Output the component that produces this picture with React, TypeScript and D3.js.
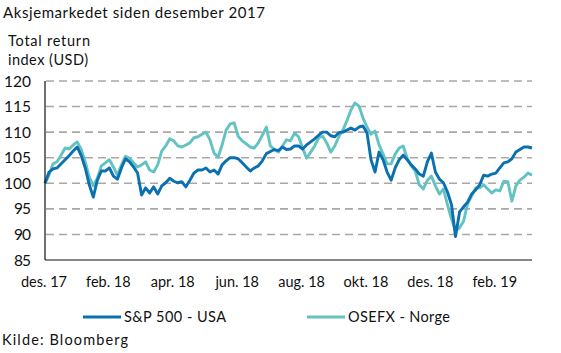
import React from 'react';
import * as d3 from 'd3';

// total return index (USD), des. 2017 = 100
const SP500 = [
  100, 102.2, 102.8, 103.0, 103.8, 104.6, 105.4, 106.3, 107.1, 105.4,
  103.0, 99.7, 97.3, 100.6, 102.4, 102.4, 103.0, 101.4, 100.8, 103.0,
  104.8, 104.2, 103.2, 102.0, 97.7, 99.1, 98.1, 99.3, 97.9, 99.5,
  100.1, 101.0, 100.4, 100.1, 100.3, 99.3, 100.6, 102.0, 102.6, 102.6,
  103.0, 102.2, 102.6, 101.8, 103.6, 104.4, 105.0, 105.0, 104.8, 104.0,
  103.2, 102.4, 103.0, 103.4, 104.4, 105.8, 106.2, 106.6, 106.4, 107.1,
  106.6, 106.7, 107.3, 107.3, 106.7, 107.5, 108.1, 108.7, 109.4, 110.0,
  110.0, 109.3, 109.1, 109.9, 110.0, 110.4, 110.8, 110.4, 111.0, 111.2,
  109.9, 104.6, 102.2, 106.1, 104.6, 102.2, 100.6, 103.0, 104.6, 105.5,
  104.6, 103.6, 102.8, 101.8, 101.4, 104.2, 105.9, 102.2, 100.8, 100.1,
  98.3, 95.8, 89.6, 94.4, 95.4, 96.3, 97.9, 98.7, 99.7, 101.6,
  101.4, 101.8, 102.0, 103.0, 104.0, 104.2, 104.8, 106.1, 106.6, 107.1,
  107.1, 106.9,
];

const OSEFX = [
  100, 101.6, 103.8, 104.2, 105.5, 106.9, 106.7, 107.5, 108.1, 106.6,
  104.2, 101.2, 99.5, 101.0, 103.4, 104.0, 104.6, 103.2, 101.6, 103.6,
  105.3, 104.9, 104.0, 103.2, 103.6, 104.2, 102.6, 102.2, 103.6, 106.3,
  107.3, 108.7, 108.3, 107.3, 107.1, 107.5, 107.9, 108.9, 109.1, 109.6,
  110.0, 108.5, 105.9, 105.1, 107.5, 110.4, 111.6, 111.8, 109.2, 108.3,
  107.7, 107.1, 106.9, 107.9, 109.4, 111.0, 107.3, 106.6, 106.1, 107.3,
  108.5, 108.3, 109.8, 109.1, 106.9, 104.9, 106.1, 107.3, 108.9, 109.2,
  107.9, 106.1, 107.3, 109.1, 110.4, 112.2, 114.3, 115.7, 115.1, 112.8,
  111.0, 109.6, 110.2, 107.5, 105.7, 103.8, 103.8, 105.7, 106.9, 107.3,
  104.9, 103.4, 102.4, 99.7, 98.9, 100.6, 101.4, 99.5, 97.9, 98.9,
  95.8, 93.0, 90.7, 91.3, 92.6, 96.0, 97.5, 99.1, 99.1, 99.7,
  98.9, 98.1, 98.7, 98.5, 100.4, 100.3, 96.5, 99.5, 100.6, 101.2,
  102.0, 101.6,
];

const X_LABELS = ['des. 17', 'feb. 18', 'apr. 18', 'jun. 18', 'aug. 18', 'okt. 18', 'des. 18', 'feb. 19'];
const X_LABEL_STEP = 16;
const Y_TICKS = [85, 90, 95, 100, 105, 110, 115, 120];

const SERIES = [
  { name: 'S&P 500 - USA', values: SP500, color: '#0a70b0' },
  { name: 'OSEFX - Norge', values: OSEFX, color: '#62c3c2' },
];

const FONT = 'Lato, "Noto Sans", sans-serif';

export default function App() {
  const width = 561;
  const height = 353;
  const margin = { top: 81, right: 29, bottom: 93, left: 45 };

  const x = d3.scaleLinear()
    .domain([0, SP500.length - 1])
    .range([margin.left, width - margin.right]);
  const y = d3.scaleLinear()
    .domain([85, 120])
    .range([height - margin.bottom, margin.top]);

  const line = d3.line<number>()
    .x((d, i) => x(i))
    .y(d => y(d));

  const legendX = [83, 307];

  return (
    <svg width={width} height={height} style={{ position: 'absolute', left: 0, top: 0 }} fontFamily={FONT}>
      <rect width={width} height={height} fill="#fff" />
      <text x={3} y={18} fontSize={15} fill="#111" textLength={262} lengthAdjust="spacing">Aksjemarkedet siden desember 2017</text>
      <text x={8} y={46} fontSize={14.5} fill="#111" textLength={82} lengthAdjust="spacing">Total return</text>
      <text x={8} y={65} fontSize={14.5} fill="#111" textLength={80} lengthAdjust="spacing">index (USD)</text>

      {/* grid */}
      {Y_TICKS.filter(t => t > 85).map(t => (
        <line key={t} x1={margin.left + 1} x2={width - margin.right} y1={y(t)} y2={y(t)}
          stroke="#aea6a2" strokeWidth={1.6} strokeDasharray="8,5" />
      ))}

      {/* y tick labels */}
      {Y_TICKS.map(t => (
        <text key={t} x={31} y={y(t)} dy="0.36em" textAnchor="end" fontSize={15.5} fill="#111"
          textLength={t >= 100 ? 27 : 17} lengthAdjust="spacing">{t}</text>
      ))}

      {/* x labels */}
      {X_LABELS.map((l, i) => (
        <text key={l + i} x={x(i * X_LABEL_STEP) - 1} y={287} textAnchor="middle" fontSize={14.5} fill="#111">{l}</text>
      ))}

      {/* series */}
      {SERIES.slice().reverse().map(s => (
        <path key={s.name} d={line(s.values) || ''} fill="none" stroke={s.color}
          strokeWidth={2.9} strokeLinejoin="round" />
      ))}

      {/* axes */}
      <line x1={margin.left} x2={margin.left} y1={margin.top} y2={height - margin.bottom} stroke="#111" strokeWidth={1.2} />
      <line x1={margin.left} x2={width - margin.right} y1={height - margin.bottom} y2={height - margin.bottom} stroke="#111" strokeWidth={1.2} />

      {/* legend */}
      {SERIES.map((s, i) => (
        <g key={s.name} transform={`translate(${legendX[i]},317)`}>
          <line x1={0} x2={38} y1={0} y2={0} stroke={s.color} strokeWidth={3.2} />
          <text x={41} y={0} dy="0.36em" fontSize={14.5} fill="#111" textLength={102} lengthAdjust="spacing">{s.name}</text>
        </g>
      ))}

      <text x={2} y={345} fontSize={14.5} fill="#111" textLength={126} lengthAdjust="spacing">Kilde: Bloomberg</text>
    </svg>
  );
}
